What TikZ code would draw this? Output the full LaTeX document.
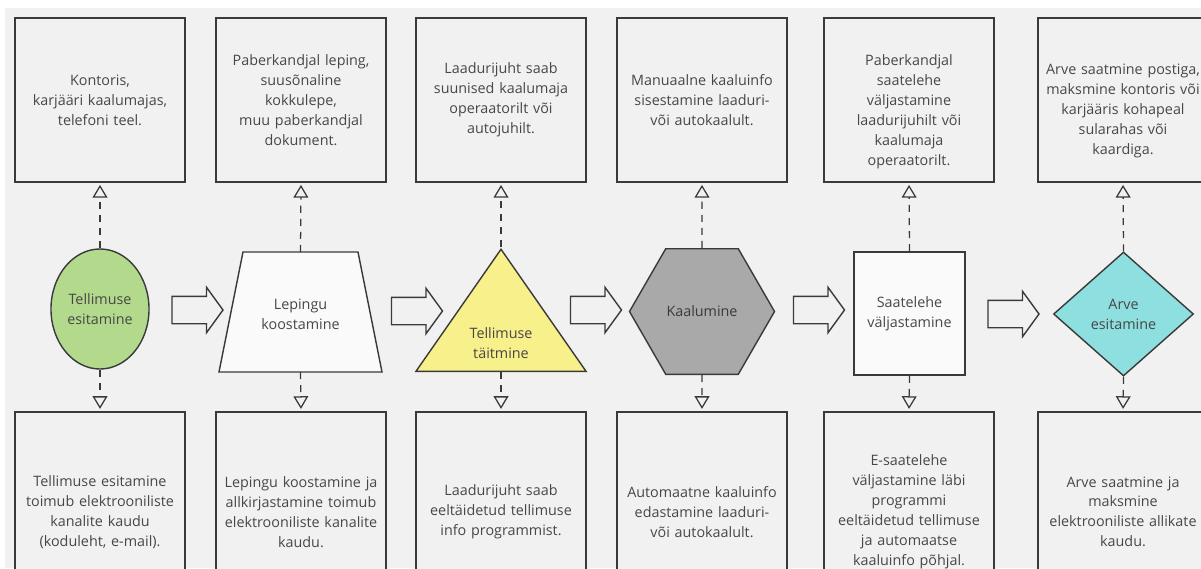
\documentclass[tikz,border=0pt]{standalone}
\usepackage{fontspec}
\setmainfont{Open Sans}
\usetikzlibrary{shapes.geometric,shapes.arrows,arrows.meta}
\definecolor{bg}{HTML}{F1F1F1}
\definecolor{ink}{HTML}{3A3A3A}
\definecolor{txt}{HTML}{474747}
\definecolor{tellgreen}{HTML}{B3DA8C}
\definecolor{taityellow}{HTML}{F8F08A}
\definecolor{kaalgrey}{HTML}{A9A9A9}
\definecolor{arvecyan}{HTML}{8EDFDF}
\definecolor{paleface}{HTML}{FAFAFA}
\tikzstyle{infobox}=[draw=ink, line width=1.1pt, fill=bg, minimum width=4.25cm, minimum height=4.1cm, text width=4.25cm, inner sep=0pt, align=center, font=\fontsize{10.2}{14.2}\selectfont, text=txt]
\tikzstyle{stage}=[draw=ink, line width=1pt, inner sep=0pt, align=center, font=\fontsize{10.2}{14.2}\selectfont, text=txt]
\tikzstyle{flowarrow}=[single arrow, draw=ink, line width=1pt, fill=bg, minimum height=1.275cm, inner xsep=0pt, inner ysep=0.325cm, single arrow head extend=0.225cm, single arrow tip angle=108]
\tikzstyle{link}=[draw=ink, line width=0.9pt, dash pattern=on 5pt off 4.3pt, -{Triangle[open, length=9pt, width=10.5pt]}, shorten >=1.5pt]

\begin{document}
\begin{tikzpicture}[x=0.025cm,y=-0.025cm]
  \useasboundingbox (0,0) rectangle (1201,568);
  \fill[white] (0,0) rectangle (1201,568);
  \fill[bg] (5,8) rectangle (1201,568);

  % upper row: paper based process
  \node[infobox] (top1) at (100,100) {Kontoris,\\karjääri kaalumajas,\\telefoni teel.};
  \node[infobox] (top2) at (301,100) {Paberkandjal leping,\\suusõnaline\\kokkulepe,\\muu paberkandjal\\dokument.};
  \node[infobox] (top3) at (501,100) {Laadurijuht saab\\suunised kaalumaja\\operaatorilt või\\autojuhilt.};
  \node[infobox] (top4) at (702,100) {Manuaalne kaaluinfo\\sisestamine laaduri-\\või autokaalult.};
  \node[infobox] (top5) at (909,100) {\rule{0pt}{24.5pt}Paberkandjal\\saatelehe\\väljastamine\\laadurijuhilt või\\kaalumaja\\operaatorilt.};
  \node[infobox] (top6) at (1123,100) {\rule{0pt}{23pt}Arve saatmine postiga,\\maksmine kontoris või\\karjääris kohapeal\\sularahas või\\kaardiga.};

  % process stages
  \node[stage, ellipse, fill=tellgreen, minimum width=2.45cm, minimum height=3cm] (tellimus) at (100,309) {Tellimuse\\esitamine};
  \filldraw[stage, fill=paleface] (219,372) -- (243,252) -- (358,252) -- (382,372) -- cycle;
  \coordinate (lepingTop) at (300.5,252);
  \coordinate (lepingBottom) at (300.5,372);
  \node[stage, draw=none] (leping) at (300.5,314) {Lepingu\\koostamine};
  \node[stage, isosceles triangle, shape border rotate=90, isosceles triangle stretches, fill=taityellow, minimum width=4.25cm, minimum height=3.05cm, anchor=lower side] (taitmine) at (501,372) {};
  \node[stage, draw=none] (taitmineText) at (501,343) {Tellimuse\\täitmine};
  \node[stage, regular polygon, regular polygon sides=6, fill=kaalgrey, minimum size=3.625cm, text=ink] (kaalumine) at (702,311.5) {Kaalumine};
  \node[stage, rectangle, fill=paleface, minimum width=2.78cm, minimum height=3.08cm] (saateleht) at (909.5,313.5) {Saatelehe\\väljastamine};
  \node[stage, diamond, fill=arvecyan, minimum width=3.5cm, minimum height=3.1cm] (arve) at (1123.5,314) {Arve\\esitamine};

  \node[flowarrow] (a1) at (192.5,310) {};
  \node[flowarrow] (a2) at (412,311) {};
  \node[flowarrow] (a3) at (591,310) {};
  \node[flowarrow] (a4) at (814,310) {};
  \node[flowarrow] (a5) at (1008.5,314) {};

  % lower row: electronic process
  \node[infobox, minimum height=5cm, anchor=north] (bot1) at (100,411) {Tellimuse esitamine\\toimub elektrooniliste\\kanalite kaudu\\(koduleht, e-mail).};
  \node[infobox, minimum height=5cm, anchor=north] (bot2) at (301,411) {Lepingu koostamine ja\\allkirjastamine toimub\\elektrooniliste kanalite\\kaudu.};
  \node[infobox, minimum height=5cm, anchor=north] (bot3) at (501,411) {Laadurijuht saab\\eeltäidetud tellimuse\\info programmist.};
  \node[infobox, minimum height=5cm, anchor=north] (bot4) at (702,411) {Automaatne kaaluinfo\\edastamine laaduri-\\või autokaalult.};
  \node[infobox, minimum height=5cm, anchor=north] (bot5) at (909,411) {E-saatelehe\\väljastamine läbi\\programmi\\eeltäidetud tellimuse\\ja automaatse\\kaaluinfo põhjal.};
  \node[infobox, minimum height=5cm, anchor=north] (bot6) at (1123,411) {Arve saatmine ja\\maksmine\\elektrooniliste allikate\\kaudu.};

  \foreach \s/\t in {tellimus.north/top1, lepingTop/top2, taitmine.apex/top3, kaalumine.north/top4, saateleht.north/top5, arve.north/top6}
    \draw[link] (\s) -- (\t.south);
  \foreach \s/\b in {tellimus.south/bot1, lepingBottom/bot2, taitmine.lower side/bot3, kaalumine.south/bot4, saateleht.south/bot5, arve.south/bot6}
    \draw[link] (\s) -- (\b.north);
\end{tikzpicture}
\end{document}
